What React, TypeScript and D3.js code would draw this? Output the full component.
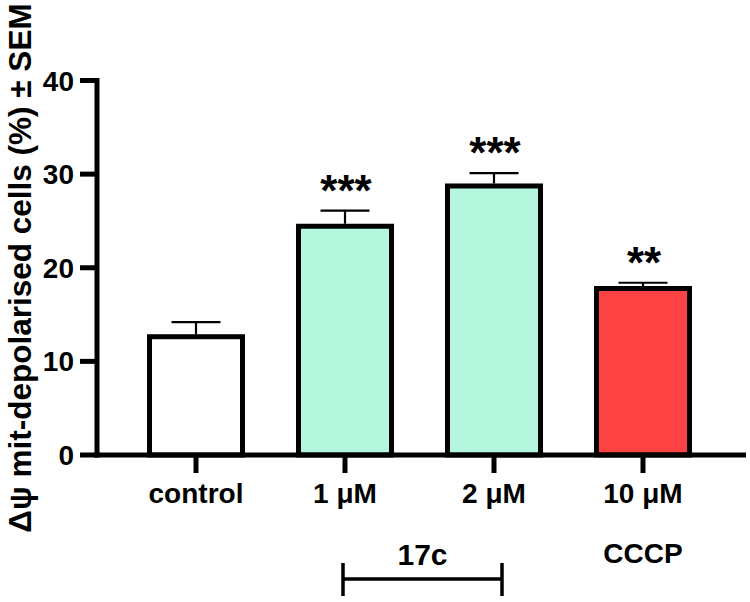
import React from "react";
import * as d3 from "d3";

// Mitochondrial depolarisation per treatment (mean ± SEM)
const categories = ["control", "1 μM", "2 μM", "10 μM"];
const means = [12.9, 24.7, 29.0, 18.05];
const sems = [1.3, 1.4, 1.1, 0.35];
const significance = ["", "***", "***", "**"];
const fills = ["#ffffff", "#b4f6de", "#b4f6de", "#fc4242"];
const yTicks = [0, 10, 20, 30, 40];
const groupLabels = ["17c", "CCCP"];

const W = 750;
const H = 602;
const FONT = "'Liberation Sans', Arial, Helvetica, sans-serif";

export default function App() {
  const y = d3.scaleLinear().domain([0, 40]).range([455, 80.5]);
  const x = d3
    .scalePoint<string>()
    .domain(categories)
    .range([196, 643]);
  const barW = 98;
  const sw = 5;
  const axisX = 97;
  const axisY = y(0);

  return (
    <svg
      width={W}
      height={H}
      style={{ position: "absolute", left: 0, top: 0, background: "#fff" }}
      fontFamily={FONT}
    >
      {/* Y-axis title */}
      <text
        transform={`translate(31, ${268}) rotate(-90)`}
        textAnchor="middle"
        fontSize={31.5}
        fontWeight="bold"
      >
        Δψ mit-depolarised cells (%) ± SEM
      </text>

      {/* Bars */}
      {categories.map((c, i) => {
        const cx = x(c)!;
        const top = y(means[i]);
        return (
          <rect
            key={c}
            x={cx - barW / 2 + sw / 2}
            y={top + sw / 2}
            width={barW - sw}
            height={axisY - top - sw / 2}
            fill={fills[i]}
            stroke="#000"
            strokeWidth={sw}
          />
        );
      })}

      {/* Error bars */}
      {categories.map((c, i) => {
        const cx = x(c)!;
        const top = y(means[i]);
        const e = y(means[i] + sems[i]);
        return (
          <g key={c} stroke="#000" strokeWidth={2.2}>
            <line x1={cx} x2={cx} y1={top} y2={e} />
            <line x1={cx - 24.5} x2={cx + 24.5} y1={e} y2={e} />
          </g>
        );
      })}

      {/* Significance markers */}
      {categories.map((c, i) =>
        significance[i] ? (
          <text
            key={c}
            x={x(c)! + 1}
            y={y(means[i] + sems[i]) - 5}
            textAnchor="middle"
            fontSize={44}
            fontWeight="bold"
          >
            {significance[i]}
          </text>
        ) : null
      )}

      {/* Y axis */}
      <line x1={axisX} x2={axisX} y1={y(40) - 2.5} y2={axisY + 2.5} stroke="#000" strokeWidth={sw} />
      {yTicks.map((t) => (
        <g key={t}>
          <line x1={80} x2={axisX} y1={y(t)} y2={y(t)} stroke="#000" strokeWidth={sw} />
          <text
            x={74}
            y={y(t)}
            dy="0.36em"
            textAnchor="end"
            fontSize={28}
            fontWeight="bold"
          >
            {t}
          </text>
        </g>
      ))}

      {/* X axis */}
      <line x1={axisX - 2.5} x2={746} y1={axisY} y2={axisY} stroke="#000" strokeWidth={sw} />
      {categories.map((c) => (
        <g key={c}>
          <line x1={x(c)!} x2={x(c)!} y1={axisY} y2={473} stroke="#000" strokeWidth={sw} />
          <text x={x(c)!} y={503} textAnchor="middle" fontSize={28} fontWeight="bold">
            {c}
          </text>
        </g>
      ))}

      {/* Group brackets */}
      <g stroke="#000" strokeWidth={3.5}>
        <line x1={x(categories[1])! - 2} x2={x(categories[2])! + 8} y1={579} y2={579} />
        <line x1={x(categories[1])! - 2} x2={x(categories[1])! - 2} y1={563} y2={596} />
        <line x1={x(categories[2])! + 8} x2={x(categories[2])! + 8} y1={563} y2={596} />
      </g>
      <text
        x={(x(categories[1])! + x(categories[2])! + 6) / 2}
        y={565}
        textAnchor="middle"
        fontSize={30}
        fontWeight="bold"
      >
        {groupLabels[0]}
      </text>
      <text x={x(categories[3])!} y={563} textAnchor="middle" fontSize={28} fontWeight="bold">
        {groupLabels[1]}
      </text>
    </svg>
  );
}
